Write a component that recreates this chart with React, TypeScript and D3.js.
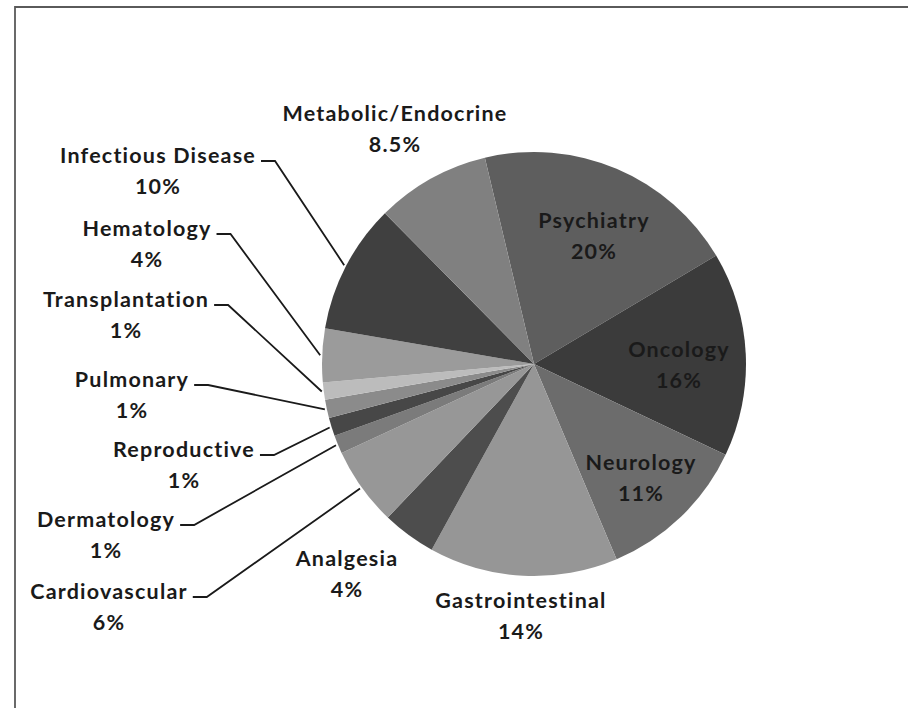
import React, { useEffect, useRef } from "react";
import * as d3 from "d3";

// slices clockwise, starting with Psychiatry
const categories = [
  "Psychiatry", "Oncology", "Neurology", "Gastrointestinal", "Analgesia",
  "Cardiovascular", "Dermatology", "Reproductive", "Pulmonary",
  "Transplantation", "Hematology", "Infectious Disease", "Metabolic/Endocrine",
];
const shares = [20.2, 15.6, 11.6, 14.4, 4.1, 6.0, 1.4, 1.4, 1.4, 1.3, 4.1, 9.9, 8.7];
const pctLabels = ["20%", "16%", "11%", "14%", "4%", "6%", "1%", "1%", "1%", "1%", "4%", "10%", "8.5%"];

const shades = [
  "#5e5e5e", "#3b3b3b", "#6c6c6c", "#969696", "#4d4d4d", "#979797", "#7b7b7b",
  "#474747", "#8b8b8b", "#bcbcbc", "#9b9b9b", "#404040", "#808080",
];

// label layout: centre x, baseline of first line, leader line or not
const labelX = [594, 679, 641, 521, 347, 109, 106, 184, 132, 126, 147, 158, 395];
const labelY = [228, 357, 470, 608, 566, 599, 527, 457, 387, 307, 236, 163, 121];
const hasLeader = [false, false, false, false, false, true, true, true, true, true, true, true, false];

const W = 908;
const H = 708;
const cx = 534;
const cy = 364;
const R = 212;

export default function App() {
  const ref = useRef<SVGSVGElement>(null);

  useEffect(() => {
    const svg = d3.select(ref.current);
    svg.selectAll("*").remove();

    // chart frame (only top and left edges show)
    svg.append("path")
      .attr("d", `M15,${H} V7 H${W}`)
      .attr("fill", "none")
      .attr("stroke", "#5a5a5a")
      .attr("stroke-width", 1.8);

    const start = (-13.4 * Math.PI) / 180;
    const pie = d3.pie<number>().sort(null).value(d => d)
      .startAngle(start).endAngle(start + 2 * Math.PI);
    const arcs = pie(shares);
    const arc = d3.arc<d3.PieArcDatum<number>>().innerRadius(0).outerRadius(R);

    const g = svg.append("g").attr("transform", `translate(${cx},${cy})`);
    g.selectAll("path").data(arcs).join("path")
      .attr("d", arc)
      .attr("fill", (d, i) => shades[i]);

    const labels = svg.append("g")
      .attr("font-family", "Lato, 'Open Sans', sans-serif")
      .attr("font-weight", "bold")
      .attr("font-size", 21.5)
      .attr("letter-spacing", 1.2)
      .attr("fill", "#1a1a1a")
      .attr("text-anchor", "middle");

    categories.forEach((name, i) => {
      const t = labels.append("text")
        .attr("x", labelX[i]).attr("y", labelY[i])
        .text(name);
      labels.append("text")
        .attr("x", labelX[i]).attr("y", labelY[i] + 31)
        .text(pctLabels[i]);

      if (hasLeader[i]) {
        const bb = (t.node() as SVGTextElement).getBBox();
        const x0 = bb.x + bb.width + 5;
        const y0 = labelY[i] - 2;
        const mid = (arcs[i].startAngle + arcs[i].endAngle) / 2;
        const px = cx + (R + 2) * Math.sin(mid);
        const py = cy - (R + 2) * Math.cos(mid);
        svg.append("path")
          .attr("d", `M${x0},${y0} H${x0 + 14} L${px},${py}`)
          .attr("fill", "none")
          .attr("stroke", "#1a1a1a")
          .attr("stroke-width", 1.8);
      }
    });
  }, []);

  return (
    <svg ref={ref} width={W} height={H}
      style={{ position: "absolute", left: 0, top: 0, background: "#fff" }} />
  );
}
